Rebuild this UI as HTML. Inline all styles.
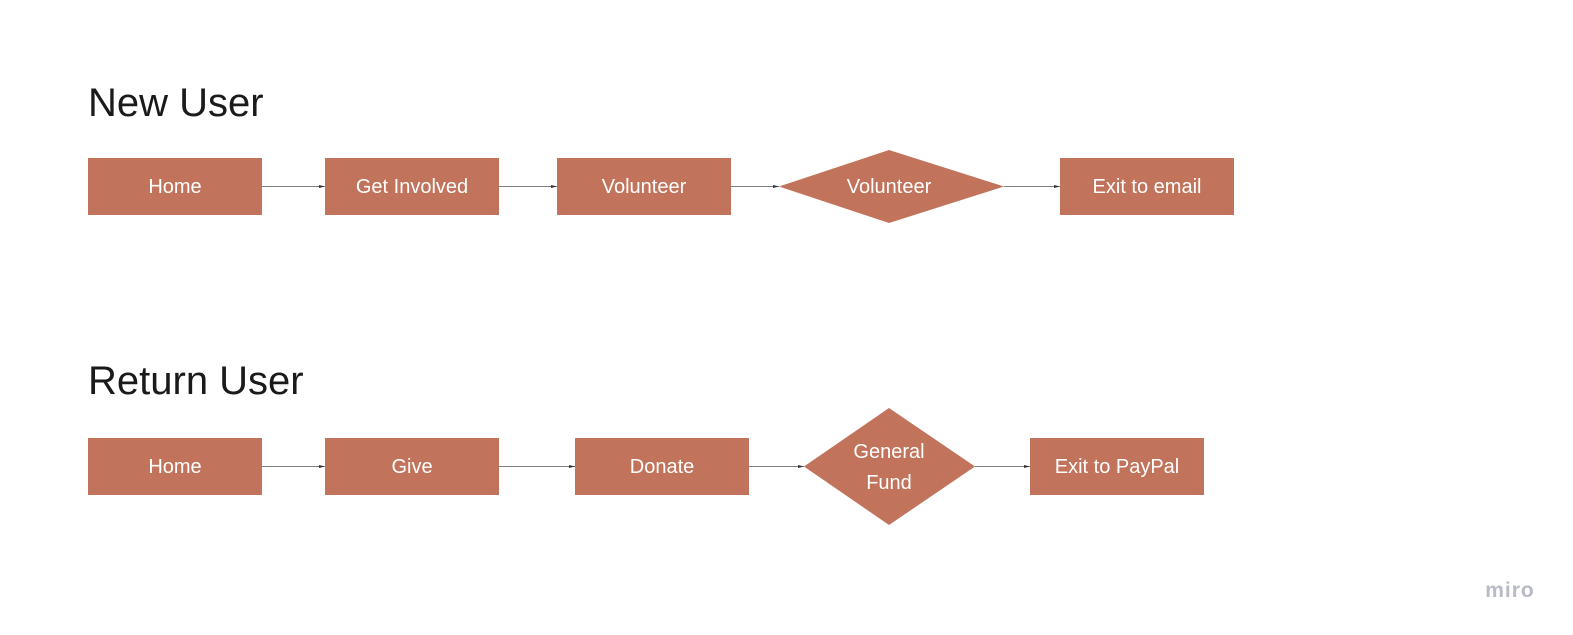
<!DOCTYPE html>
<html><head><meta charset="utf-8"><style>
html,body{margin:0;padding:0;background:#fff;width:1573px;height:635px;overflow:hidden}
svg text{font-family:"Liberation Sans",sans-serif}
</style></head><body>
<svg width="1573" height="635" viewBox="0 0 1573 635" xmlns="http://www.w3.org/2000/svg">
<defs><marker id="a" markerWidth="6" markerHeight="6" refX="6" refY="3" orient="auto" markerUnits="userSpaceOnUse"><path d="M0,1.5 L6,3 L0,4.5 z" fill="#333"/></marker></defs>
<text x="88" y="116" font-size="40" fill="#1a1a1a">New User</text>
<text x="88" y="394" font-size="40" fill="#1a1a1a">Return User</text>
<g fill="#c1735b">
<rect x="88" y="158" width="174" height="57"/>
<rect x="325" y="158" width="174" height="57"/>
<rect x="557" y="158" width="174" height="57"/>
<polygon points="779,186.5 889,150 1004,186.5 889,223"/>
<rect x="1060" y="158" width="174" height="57"/>
<rect x="88" y="438" width="174" height="57"/>
<rect x="325" y="438" width="174" height="57"/>
<rect x="575" y="438" width="174" height="57"/>
<polygon points="804,466.5 889,408 975,466.5 889,525"/>
<rect x="1030" y="438" width="174" height="57"/>
</g>
<g stroke="#555" stroke-width="0.8" marker-end="url(#a)">
<line x1="262" y1="186.5" x2="325" y2="186.5"/>
<line x1="499" y1="186.5" x2="557" y2="186.5"/>
<line x1="731" y1="186.5" x2="779" y2="186.5"/>
<line x1="1004" y1="186.5" x2="1060" y2="186.5"/>
<line x1="262" y1="466.5" x2="325" y2="466.5"/>
<line x1="499" y1="466.5" x2="575" y2="466.5"/>
<line x1="749" y1="466.5" x2="804" y2="466.5"/>
<line x1="975" y1="466.5" x2="1030" y2="466.5"/>
</g>
<g fill="#fff" font-size="20" text-anchor="middle">
<text x="175" y="193">Home</text>
<text x="412" y="193">Get Involved</text>
<text x="644" y="193">Volunteer</text>
<text x="889" y="193">Volunteer</text>
<text x="1147" y="193">Exit to email</text>
<text x="175" y="473">Home</text>
<text x="412" y="473">Give</text>
<text x="662" y="473">Donate</text>
<text x="889" y="458">General</text>
<text x="889" y="489">Fund</text>
<text x="1117" y="473">Exit to PayPal</text>
</g>
<text x="1510" y="597" font-size="21" font-weight="bold" fill="#b8bbc7" text-anchor="middle" letter-spacing="1">miro</text>
</svg>
</body></html>
